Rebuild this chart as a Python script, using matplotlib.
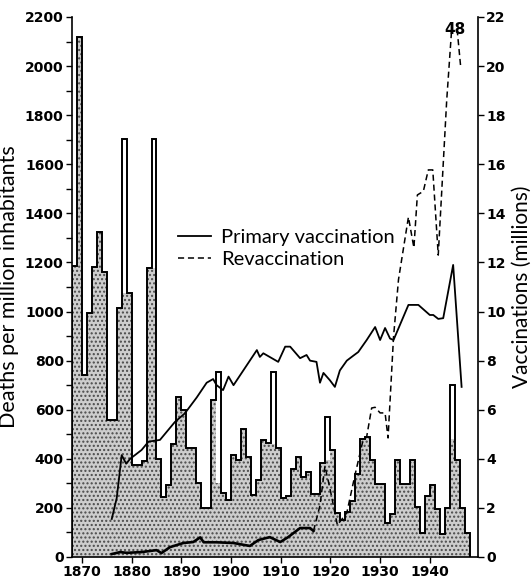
import numpy as np
import matplotlib.pyplot as plt

plt.rcParams['hatch.linewidth'] = 1.0

# smallpox deaths per million, one bar per year
years = list(range(1868, 1948))
deaths = [1185, 2118, 741, 996, 1181, 1324, 1160, 558, 558, 1014,
          1703, 1075, 375, 375, 390, 1177, 1703, 400, 244, 295,
          460, 652, 600, 444, 444, 300, 200, 200, 640, 754,
          262, 232, 415, 395, 520, 407, 252, 313, 477, 464,
          754, 446, 242, 248, 360, 407, 325, 347, 255, 255,
          383, 570, 436, 179, 150, 185, 230, 340, 480, 489,
          395, 297, 297, 138, 175, 395, 297, 297, 395, 204,
          98, 249, 293, 196, 94, 200, 700, 395, 200, 98]
# height of the stippled part (some peaks are left white on top)
stipple = [1185, 2118, 741, 996, 1181, 1324, 1160, 558, 558, 1014,
           1075, 1075, 375, 375, 390, 1177, 1177, 400, 244, 295,
           460, 652, 600, 444, 444, 300, 200, 200, 640, 300,
           262, 232, 415, 395, 520, 407, 252, 313, 477, 464,
           460, 446, 242, 248, 360, 407, 325, 347, 255, 255,
           383, 395, 436, 179, 150, 185, 230, 340, 480, 489,
           395, 297, 297, 138, 175, 395, 297, 297, 395, 204,
           98, 249, 293, 196, 94, 200, 480, 395, 200, 98]

# vaccinations (millions)
prim_years = [1876.0, 1877.0, 1878.0, 1878.9, 1879.7, 1882.0, 1883.4, 1885.7, 1888.7,
              1890.7, 1893.1, 1895.1, 1896.4, 1897.1, 1898.4, 1899.5, 1900.5, 1902.8,
              1905.2, 1905.8, 1906.5, 1909.5, 1910.9, 1911.9, 1913.9, 1915.2, 1915.9,
              1917.2, 1917.9, 1918.6, 1919.9, 1920.9, 1921.9, 1923.3, 1924.6, 1925.6,
              1927.3, 1929.0, 1930.0, 1931.0, 1932.0, 1932.7, 1935.7, 1937.7, 1940.0,
              1940.7, 1941.7, 1942.7, 1944.7, 1946.4]
prim_vals = [1.55, 2.4, 4.15, 3.8, 4.0, 4.36, 4.7, 4.77, 5.5,
             5.85, 6.5, 7.1, 7.25, 7.0, 6.8, 7.35, 7.0, 7.7,
             8.43, 8.15, 8.3, 7.95, 8.57, 8.57, 8.1, 8.23, 8.0,
             7.95, 7.1, 7.5, 7.2, 6.93, 7.6, 8.0, 8.2, 8.35,
             8.84, 9.37, 8.84, 9.33, 8.9, 8.84, 10.27, 10.27, 9.86,
             9.86, 9.7, 9.73, 11.9, 6.93]

revac_early_years = [1876.0, 1877.7, 1879.0, 1882.0, 1885.0, 1886.0, 1887.7, 1890.4,
                     1892.4, 1893.8, 1894.5, 1897.0, 1900.5, 1903.8, 1905.5, 1907.8,
                     1909.9, 1911.5, 1913.9, 1915.9, 1916.6]
revac_early_vals = [0.12, 0.2, 0.17, 0.2, 0.28, 0.16, 0.4, 0.57,
                    0.61, 0.8, 0.6, 0.6, 0.57, 0.45, 0.69, 0.81,
                    0.61, 0.81, 1.18, 1.18, 1.06]
revac_years = [1916.6, 1917.9, 1918.9, 1919.9, 1921.4, 1923.3, 1924.9, 1926.5, 1927.3,
               1928.3, 1929.0, 1930.0, 1931.0, 1931.6, 1932.7, 1933.7, 1935.7, 1936.8,
               1937.5, 1938.7, 1939.7, 1940.6, 1941.7, 1943.4, 1944.4, 1945.0, 1945.5,
               1946.2]
revac_vals = [1.06, 2.1, 3.7, 2.8, 1.3, 1.8, 3.3, 4.7, 4.9,
              6.07, 6.1, 5.87, 5.87, 4.85, 8.96, 11.3, 13.85, 12.6,
              14.75, 14.9, 15.77, 15.77, 12.3, 18.6, 21.5, np.nan, 21.5,
              20.0]
revac_peak = 48

fig = plt.figure(figsize=(5.31, 5.78), dpi=100)
ax = fig.add_axes([72/531, 21/578, 406/531, 540/578])
ax2 = ax.twinx()

edges = years + [years[-1] + 1]
ax.stairs(stipple, edges, fill=True, facecolor='#cdcdcd', edgecolor='#4a4a4a',
          hatch='....', linewidth=0, zorder=1)
ax.stairs(deaths, edges, color='black', linewidth=1.4, zorder=2)

ax2.plot(prim_years, prim_vals, color='black', lw=1.3, label='Primary vaccination')
ax2.plot(revac_early_years, revac_early_vals, color='black', lw=1.9)
ax2.plot(revac_years, revac_vals, color='black', lw=1.1, ls=(0, (4, 2.5)),
         label='Revaccination')
ax2.text(1945.0, 21.5, str(revac_peak), ha='center', va='center',
         fontsize=11, family=['Liberation Sans Narrow', 'DejaVu Sans'], fontweight='bold')

ax.set_xlim(1868, 1949.7)
ax.set_ylim(0, 2200)
ax2.set_ylim(0, 22)
ax.set_xticks(range(1870, 1941, 10))
ax.set_yticks(range(0, 2201, 200))
ax.set_yticks(range(100, 2200, 200), minor=True)
ax2.set_yticks(range(0, 23, 2))

tick_font = dict(family=['Liberation Sans Narrow', 'DejaVu Sans'], fontweight='bold', fontsize=10)
for a in (ax, ax2):
    for lab in a.get_xticklabels() + a.get_yticklabels():
        lab.set(**tick_font)
    a.spines['top'].set_visible(False)
    a.tick_params(which='both', direction='out', length=4.5, width=1, pad=1.5)
ax.spines['right'].set_visible(False)
ax2.spines['left'].set_visible(False)
ax2.spines['bottom'].set_visible(False)
for s in ('left', 'bottom'):
    ax.spines[s].set_linewidth(1.2)
ax2.spines['right'].set_linewidth(1.2)

ax.set_ylabel('Deaths per million inhabitants', family=['Lato', 'DejaVu Sans'],
              fontsize=15.5, labelpad=4)
ax2.set_ylabel('Vaccinations (millions)', family=['Lato', 'DejaVu Sans'],
               fontsize=15, labelpad=4)

ax2.legend(loc='upper left', bbox_to_anchor=(178/531, 1 - 229/578), bbox_transform=fig.transFigure,
           frameon=False, prop={'family': 'Lato', 'size': 14.5}, handlelength=1.65,
           handletextpad=0.5, labelspacing=0.25, borderpad=0, borderaxespad=0)

fig.savefig('out.png', dpi=100)
